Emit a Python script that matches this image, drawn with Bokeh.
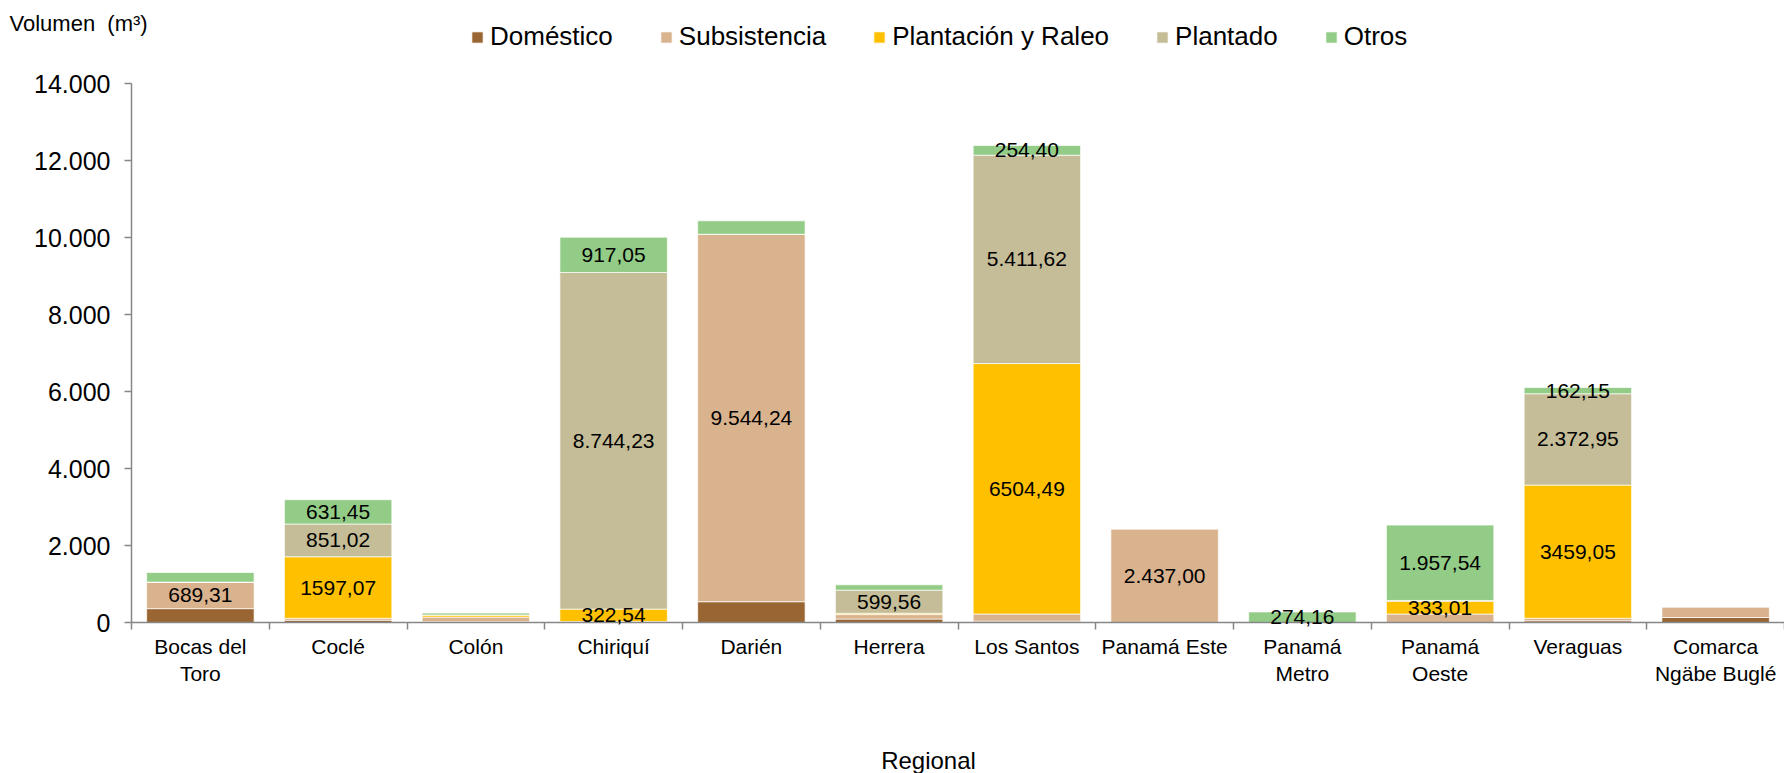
from bokeh.plotting import figure
from bokeh.models import (ColumnDataSource, Range1d, FixedTicker, Legend, LegendItem,
                          LabelSet, Label)
from bokeh.core.properties import value
from bokeh.embed import file_html
from bokeh.resources import INLINE

# ---------------- data ----------------
regions = ["Bocas del\nToro", "Coclé", "Colón", "Chiriquí", "Darién", "Herrera",
           "Los Santos", "Panamá Este", "Panamá\nMetro", "Panamá\nOeste", "Veraguas",
           "Comarca\nNgäbe Buglé"]
series_names = ["Doméstico", "Subsistencia", "Plantación y Raleo", "Plantado", "Otros"]
series_keys = ["domestico", "subsistencia", "plantacion", "plantado", "otros"]
domestico    = [360, 60, 20, 10, 540, 90, 35, 0, 0, 0, 45, 130]
subsistencia = [689.31, 50, 120, 15, 9544.24, 115, 186, 2437.00, 0, 220, 65, 280]
plantacion   = [0, 1597.07, 55, 322.54, 0, 35, 6504.49, 0, 0, 333.01, 3459.05, 0]
plantado     = [0, 851.02, 0, 8744.23, 0, 599.56, 5411.62, 0, 0, 20, 2372.95, 0]
otros        = [250, 631.45, 50, 917.05, 350, 140, 254.40, 0, 274.16, 1957.54, 162.15, 0]
colors = ["#996633", "#D9B28E", "#FFC000", "#C4BD97", "#93CC86"]

y_ticks = [0, 2000, 4000, 6000, 8000, 10000, 12000, 14000]
y_tick_labels = ["0", "2.000", "4.000", "6.000", "8.000", "10.000", "12.000", "14.000"]

label_region = [0, 1, 1, 1, 3, 3, 3, 4, 5, 6, 6, 6, 7, 8, 9, 9, 10, 10, 10]
label_series = ["subsistencia", "plantacion", "plantado", "otros",
                "plantacion", "plantado", "otros", "subsistencia", "plantado",
                "plantacion", "plantado", "otros", "subsistencia", "otros",
                "plantacion", "otros", "plantacion", "plantado", "otros"]
label_text = ["689,31", "1597,07", "851,02", "631,45", "322,54", "8.744,23", "917,05",
              "9.544,24", "599,56", "6504,49", "5.411,62", "254,40", "2.437,00",
              "274,16", "333,01", "1.957,54", "3459,05", "2.372,95", "162,15"]
y_title = "Volumen\u00a0 (m³)"
x_title = "Regional"

FONT = "Liberation Sans"

# ---------------- layout constants (pixels) ----------------
W, H = 1784, 773
AXIS_X = 131          # page x of the value axis
TOP_Y = 83            # page y of the 14.000 tick
BASE_Y = 622          # page y of the 0 line

n = len(regions)
px_per_cat = (W - AXIS_X) / n
x_start = -AXIS_X / px_per_cat
px_per_unit = (BASE_Y - TOP_Y) / y_ticks[-1]
y_start = -(H - BASE_Y) / px_per_unit
y_end = y_ticks[-1] + TOP_Y / px_per_unit

# ---------------- build ----------------
centers = [i + 0.5 for i in range(n)]
values = dict(domestico=domestico, subsistencia=subsistencia, plantacion=plantacion,
              plantado=plantado, otros=otros)
source = ColumnDataSource(dict(x=centers, **values))

p = figure(width=W, height=H, x_range=Range1d(x_start, n), y_range=Range1d(y_start, y_end),
           output_backend="svg", toolbar_location=None,
           min_border_left=0, min_border_right=0, min_border_top=0,
           min_border_bottom=0)
p.title.visible = False
p.outline_line_color = None
p.xgrid.visible = False
p.ygrid.visible = False

renderers = p.vbar_stack(series_keys, x="x", width=0.78, source=source,
                         fill_color=colors, line_color="white", line_width=1,
                         line_alpha=0.7)

# segment centres for data labels
bottoms = {}
run = [0.0] * n
for k in series_keys:
    bottoms[k] = list(run)
    run = [a + b for a, b in zip(run, values[k])]
lx = [centers[i] for i in label_region]
ly = [bottoms[s][i] + values[s][i] / 2 for i, s in zip(label_region, label_series)]
lsrc = ColumnDataSource(dict(x=lx, y=ly, t=label_text))
p.add_layout(LabelSet(x="x", y="y", text="t", source=lsrc, text_align="center",
                      text_baseline="middle", text_font=value(FONT),
                      text_font_size=value("21px"), text_color="black"))

# category axis, pinned at y = 0
xa = p.xaxis[0]
xa.fixed_location = 0
xa.bounds = (0, n)
xa.ticker = FixedTicker(ticks=centers, minor_ticks=list(range(n + 1)))
xa.major_label_overrides = {c: r for c, r in zip(centers, regions)}
xa.major_tick_in = 0
xa.major_tick_out = 0
xa.minor_tick_in = 0
xa.minor_tick_out = 7
xa.minor_tick_line_color = "#868686"
xa.minor_tick_line_width = 1.5
xa.axis_line_color = "#868686"
xa.axis_line_width = 1.5
xa.major_label_standoff = 5
xa.major_label_text_font = FONT
xa.major_label_text_font_size = "21px"
xa.major_label_text_color = "black"

# value axis, pinned at x = 0
ya = p.yaxis[0]
ya.fixed_location = 0
ya.bounds = (0, y_ticks[-1])
ya.ticker = FixedTicker(ticks=y_ticks, minor_ticks=[])
ya.major_label_overrides = {t: l for t, l in zip(y_ticks, y_tick_labels)}
ya.major_tick_in = 0
ya.major_tick_out = 7
ya.major_tick_line_color = "#868686"
ya.major_tick_line_width = 1.5
ya.minor_tick_line_color = None
ya.axis_line_color = "#868686"
ya.axis_line_width = 1.5
ya.major_label_standoff = 14
ya.major_label_text_font = FONT
ya.major_label_text_font_size = "25px"
ya.major_label_text_color = "black"

# legend along the top
legend = Legend(items=[LegendItem(label=nm, renderers=[r])
                       for nm, r in zip(series_names, renderers)],
                orientation="horizontal", location=(470, H - 52),
                label_text_font=FONT, label_text_font_size="26px",
                label_text_color="black", glyph_width=14, glyph_height=14,
                label_standoff=6, spacing=46, padding=0, margin=0,
                border_line_color=None, background_fill_alpha=0)
p.add_layout(legend, "center")

# axis titles
p.add_layout(Label(x=9, y=H - 23, x_units="screen", y_units="screen",
                   text=y_title, text_font=FONT, text_font_size="22px",
                   text_baseline="middle", text_color="black"))
p.add_layout(Label(x=928, y=H - 760, x_units="screen", y_units="screen",
                   text=x_title, text_font=FONT, text_font_size="24px",
                   text_align="center", text_baseline="middle", text_color="black"))

open("out.html", "w").write(file_html(p, INLINE))
